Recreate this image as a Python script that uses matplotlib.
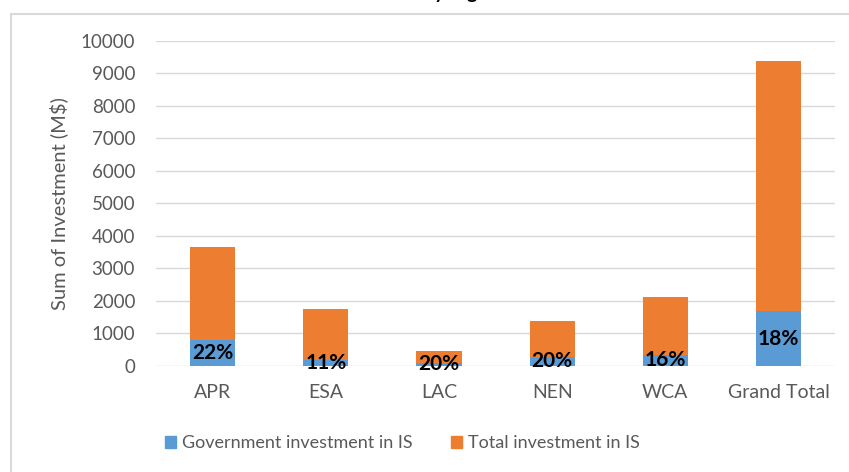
import numpy as np
import matplotlib
matplotlib.use("Agg")
import matplotlib.pyplot as plt
from matplotlib.patches import Rectangle, Patch

plt.rcParams["font.family"] = ["Lato", "DejaVu Sans"]

regions = ["APR", "ESA", "LAC", "NEN", "WCA", "Grand Total"]
total_inv = [3660, 1740, 460, 1380, 2110, 9380]
gov_share = [0.22, 0.11, 0.20, 0.20, 0.16, 0.18]
gov_inv = [t * s for t, s in zip(total_inv, gov_share)]
yticks = list(range(0, 10001, 1000))

blue = "#5B9BD5"
orange = "#ED7D31"
grey_txt = "#595959"

fig = plt.figure(figsize=(8.49, 4.72), dpi=100)
ax = fig.add_axes([0.1837, 0.2246, 0.80, 0.6892])

x = np.arange(len(regions))
ax.bar(x, gov_inv, width=0.4, color=blue, zorder=3)
ax.bar(x, np.array(total_inv) - np.array(gov_inv), width=0.4,
       bottom=gov_inv, color=orange, zorder=3)

for xi, g, s in zip(x, gov_inv, gov_share):
    ax.text(xi, g / 2, "{:.0%}".format(s), ha="center", va="center",
            fontsize=15, fontweight="bold", color="black", zorder=4)

ax.set_xlim(-0.5, len(regions) - 0.5)
ax.set_ylim(0, 10000)
ax.set_yticks(yticks)
ax.set_xticks(x)
ax.set_xticklabels(regions)
ax.yaxis.grid(True, color="#D9D9D9", linewidth=1.0, zorder=0)
ax.set_axisbelow(True)
for sp in ax.spines.values():
    sp.set_visible(False)
ax.tick_params(axis="both", length=0, labelcolor=grey_txt)
ax.tick_params(axis="y", pad=15, labelsize=13.5)
ax.tick_params(axis="x", pad=13, labelsize=14)
ax.set_ylabel("Sum of Investment (M$)", fontsize=14.5, color=grey_txt, labelpad=9)

handles = [Patch(color=blue, label="Government investment in IS"),
           Patch(color=orange, label="Total investment in IS")]
fig.legend(handles=handles, loc="center", bbox_to_anchor=(0.474, 0.061), ncol=2,
           frameon=False, fontsize=13, handlelength=0.6, handleheight=0.6,
           handletextpad=0.35, columnspacing=2.1, labelcolor=grey_txt)

# chart frame and the title above it
fig.patches.append(Rectangle((11 / 849, -0.1), 1.2, 1 - 14 / 472 + 0.1,
                             transform=fig.transFigure, fill=False,
                             edgecolor="#D9D9D9", linewidth=1.5))
fig.text(0.025, 1 + 1 / 472, "Government investment and total investment by region",
         fontsize=14, fontweight="bold", color="black", ha="left", va="baseline")

fig.savefig("out.png", dpi=100)
